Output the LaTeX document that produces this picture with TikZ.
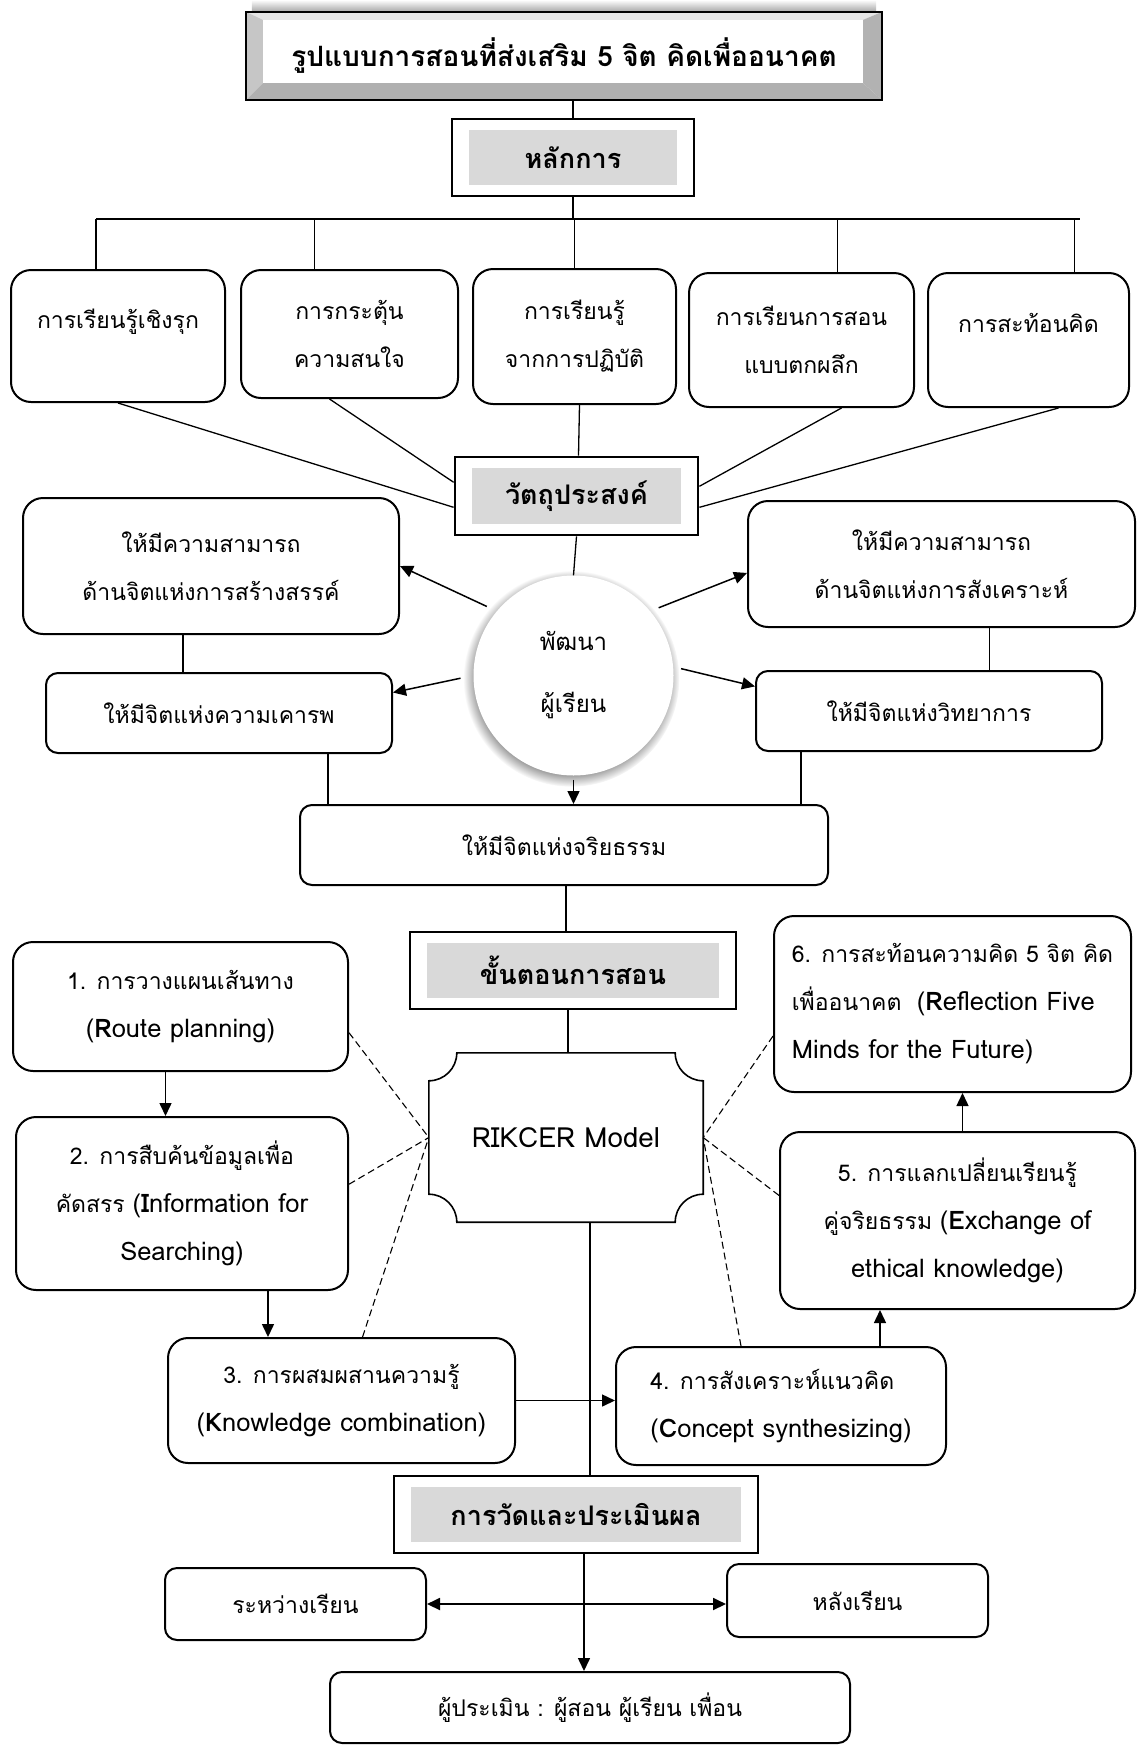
\documentclass[tikz,border=0pt]{standalone}
\usepackage{fontspec}
\setmainfont[Script=Thai]{Loma}
\newfontfamily\lat[Scale=1.11]{Loma}
\usetikzlibrary{calc,arrows.meta,shadows,backgrounds}

\definecolor{gris}{RGB}{217,217,217}

\tikzset{
  caja/.style={draw, line width=2pt, rounded corners=20pt, align=center,
    font=\fontsize{23}{48}\selectfont},
  cajita/.style={caja, rounded corners=12pt},
  cabecera/.style={draw, line width=2.8pt, font=\fontsize{27}{30}\selectfont\bfseries,
    path picture={\fill[gris] ($(path picture bounding box.north west)+(17,11)$)
      rectangle ($(path picture bounding box.south east)+(-17,-11)$);}},
  arriba/.style={text depth=34pt},
  linea/.style={line width=1.3pt},
  flecha/.style={line width=1.5pt, -{Triangle[length=13pt,width=12pt]}},
  flechas/.style={line width=1.9pt, {Triangle[length=13pt,width=12pt]}-{Triangle[length=13pt,width=12pt]}},
  punteada/.style={line width=1.1pt, dash pattern=on 7pt off 4pt}
}

\begin{document}
\begin{tikzpicture}[x=1pt, y=-1pt]
\useasboundingbox (0,0) rectangle (1137,1746);

% Titulo con bisel
\node[font=\fontsize{28}{32}\selectfont\bfseries, minimum width=636, minimum height=88] (titulo) at (564,56) {รูปแบบการสอนที่ส่งเสริม 5 จิต คิดเพื่ออนาคต};
\begin{scope}[on background layer]
\shade[top color=white, bottom color=gray!70] ($(titulo.north west)+(6,-12)$) rectangle ($(titulo.north east)+(-6,0)$);
\fill[gray!20] (titulo.north west) -- (titulo.north east) -- ($(titulo.north east)+(-19,8)$) -- ($(titulo.north west)+(17,8)$) -- cycle;
\fill[gray!45] (titulo.north west) -- ($(titulo.north west)+(17,8)$) -- ($(titulo.south west)+(17,-17)$) -- (titulo.south west) -- cycle;
\fill[gray!60] (titulo.north east) -- (titulo.south east) -- ($(titulo.south east)+(-19,-17)$) -- ($(titulo.north east)+(-19,8)$) -- cycle;
\fill[gray!62] (titulo.south west) -- (titulo.south east) -- ($(titulo.south east)+(-19,-17)$) -- ($(titulo.south west)+(17,-17)$) -- cycle;
\end{scope}
\draw[line width=2.2pt] (titulo.north west) rectangle (titulo.south east);

% Cabeceras grises
\node[cabecera, minimum width=242, minimum height=77] (princ) at (573,157.5) {หลักการ};
\node[cabecera, minimum width=243, minimum height=78] (obj) at (576.5,496) {วัตถุประสงค์};
\node[cabecera, minimum width=326, minimum height=77] (pasos) at (573,970.5) {ขั้นตอนการสอน};
\node[cabecera, minimum width=364, minimum height=77] (eval) at (576,1514.5) {การวัดและประเมินผล};

% Principios
\node[caja, arriba, minimum width=214, minimum height=132] (p1) at (118,336) {การเรียนรู้เชิงรุก};
\node[caja, minimum width=217, minimum height=128] (p2) at (349.5,334) {การกระตุ้น\\ความสนใจ};
\node[caja, minimum width=203, minimum height=135] (p3) at (574.5,336.5) {การเรียนรู้\\จากการปฏิบัติ};
\node[caja, minimum width=225, minimum height=134] (p4) at (801.5,340) {การเรียนการสอน\\แบบตกผลึก};
\node[caja, arriba, minimum width=201, minimum height=134] (p5) at (1028.5,340) {การสะท้อนคิด};

% Objetivos
\node[caja, minimum width=376, minimum height=136] (o1) at (211,566) {ให้มีความสามารถ\\ด้านจิตแห่งการสร้างสรรค์};
\node[caja, minimum width=387, minimum height=126] (o2) at (941.5,564) {ให้มีความสามารถ\\ด้านจิตแห่งการสังเคราะห์};
\node[cajita, minimum width=346, minimum height=80] (o3) at (219,713) {ให้มีจิตแห่งความเคารพ};
\node[cajita, minimum width=346, minimum height=80] (o4) at (929,711) {ให้มีจิตแห่งวิทยาการ};
\node[cajita, minimum width=528, minimum height=80] (o5) at (564,845) {ให้มีจิตแห่งจริยธรรม};
\node[circle, fill=white, minimum size=200, align=center, font=\fontsize{24}{48}\selectfont,
  circular drop shadow={shadow xshift=-2pt, shadow yshift=-3pt, shadow scale=1.08}] (dev) at (573.5,675.5) {พัฒนา\\[14pt]ผู้เรียน};

% Pasos del modelo
\node[caja, minimum width=335, minimum height=129] (s1) at (180.5,1006.5) {1. การวางแผนเส้นทาง\\{\lat(\textbf{R}oute planning)}};
\node[caja, minimum width=332, minimum height=173] (s2) at (182,1203.5) {2. การสืบค้นข้อมูลเพื่อ\\คัดสรร {\lat(\textbf{I}nformation for}\\{\lat Searching)}};
\node[caja, minimum width=347, minimum height=125] (s3) at (341.5,1400.5) {3. การผสมผสานความรู้\\{\lat(\textbf{K}nowledge combination)}};
\node[caja, align=left, minimum width=330, minimum height=118] (s4) at (781,1406) {4. การสังเคราะห์แนวคิด\\{\lat(\textbf{C}oncept synthesizing)}};
\node[caja, minimum width=355, minimum height=177] (s5) at (957.5,1220.5) {5. การแลกเปลี่ยนเรียนรู้\\คู่จริยธรรม {\lat(\textbf{E}xchange of}\\{\lat ethical knowledge)}};
\node[caja, align=left, minimum width=357, minimum height=176] (s6) at (952.5,1004) {6. การสะท้อนความคิด 5 จิต คิด\\เพื่ออนาคต~ {\lat(\textbf{R}eflection Five}\\{\lat Minds for the Future)}};
\node[font=\fontsize{25}{30}\selectfont\lat, minimum width=274, minimum height=169] (rik) at (566,1137.5) {RIKCER Model};
\draw[line width=1.6pt] ($(rik.north west)+(28,0)$) -- ($(rik.north east)+(-28,0)$)
  arc[start angle=180, end angle=90, radius=28] -- ($(rik.south east)+(0,-28)$)
  arc[start angle=270, end angle=180, radius=28] -- ($(rik.south west)+(28,0)$)
  arc[start angle=0, end angle=-90, radius=28] -- ($(rik.north west)+(0,28)$)
  arc[start angle=90, end angle=0, radius=28] -- cycle;

% Evaluacion
\node[cajita, minimum width=261, minimum height=72] (durante) at (295.5,1604) {ระหว่างเรียน};
\node[cajita, minimum width=261, minimum height=73] (despues) at (857.5,1600.5) {หลังเรียน};
\node[cajita, minimum width=520, minimum height=71] (quien) at (590,1707.5) {ผู้ประเมิน : ผู้สอน ผู้เรียน เพื่อน};

% Lineas de arriba
\coordinate (barraI) at (96,219);
\coordinate (barraD) at (1080,219);
\draw[linea] (princ.north |- titulo.south) -- (princ.north);
\draw[linea] (princ.south) -- (princ.south |- barraI);
\draw[line width=2pt] (barraI) -- (barraD);
\foreach \n/\d in {p1/-22,p2/-35,p3/0,p4/36,p5/46}
  \draw[linea] ([xshift=\d pt]\n.north) -- ([xshift=\d pt]\n.north |- barraI);
\draw[linea] (p1.south) -- ($(obj.north west)!0.64!(obj.south west)$);
\draw[linea] ([xshift=-20pt]p2.south) -- ($(obj.north west)!0.33!(obj.south west)$);
\draw[linea] ([xshift=5pt]p3.south) -- ([xshift=2pt]obj.north);
\draw[linea] ([xshift=40pt]p4.south) -- ($(obj.north east)!0.38!(obj.south east)$);
\draw[linea] ([xshift=30pt]p5.south) -- ($(obj.north east)!0.64!(obj.south east)$);
\draw[linea] (obj.south) -- (dev.north);

% Flechas desde el circulo
\draw[flecha, shorten <=11pt] (dev.140) -- (o1.east);
\draw[flecha, shorten <=9pt] (dev.40) -- ($(o2.north west)!0.57!(o2.south west)$);
\draw[flecha, shorten <=13pt] (dev.180) -- ($(o3.north east)!0.25!(o3.south east)$);
\draw[flecha, shorten <=8pt] (dev.5) -- ($(o4.north west)!0.2!(o4.south west)$);
\draw[flecha, shorten <=4pt] (dev.south) -- (dev.south |- o5.north);
\draw[linea] ([xshift=-28pt]o1.south) -- ([xshift=-28pt]o1.south |- o3.north);
\draw[linea] ([xshift=48pt]o2.south) -- ([xshift=48pt]o2.south |- o4.north);
\draw[linea] ([xshift=109pt]o3.south) -- ([xshift=109pt]o3.south |- o5.north);
\draw[linea] ([xshift=-128pt]o4.south) -- ([xshift=-128pt]o4.south |- o5.north);
\draw[linea] ([xshift=2pt]o5.south) -- ([xshift=2pt]o5.south |- pasos.north);
\draw[linea] ([xshift=-5pt]pasos.south) -- ([xshift=-5pt]pasos.south |- rik.north);

% Pasos: flechas y punteadas
\draw[flecha] ([xshift=-15pt]s1.south) -- ([xshift=-15pt]s1.south |- s2.north);
\draw[flecha] ([xshift=86pt]s2.south) -- ([xshift=86pt]s2.south |- s3.north);
\draw[flecha] (s3.east) -- (s3.east -| s4.west);
\draw[flecha] ([xshift=99pt]s4.north) -- ([xshift=99pt]s4.north |- s5.south);
\draw[flecha] ([xshift=5pt]s5.north) -- ([xshift=5pt]s5.north |- s6.south);
\draw[punteada] ($(s1.north east)!0.7!(s1.south east)$) -- (rik.west);
\draw[punteada] ($(s2.north east)!0.39!(s2.south east)$) -- (rik.west);
\draw[punteada] ([xshift=21pt]s3.north) -- (rik.west);
\draw[punteada] ($(s6.north west)!0.68!(s6.south west)$) -- (rik.east);
\draw[punteada] ($(s5.north west)!0.36!(s5.south west)$) -- (rik.east);
\draw[punteada] ([xshift=-40pt]s4.north) -- (rik.east);

% Evaluacion: lineas
\draw[linea] ([xshift=24pt]rik.south) -- ([xshift=24pt]rik.south |- eval.north);
\draw[flecha] ([xshift=8pt]eval.south) -- ([xshift=8pt]eval.south |- quien.north);
\draw[flechas] (durante.east) -- (durante.east -| despues.west);
\end{tikzpicture}
\end{document}
